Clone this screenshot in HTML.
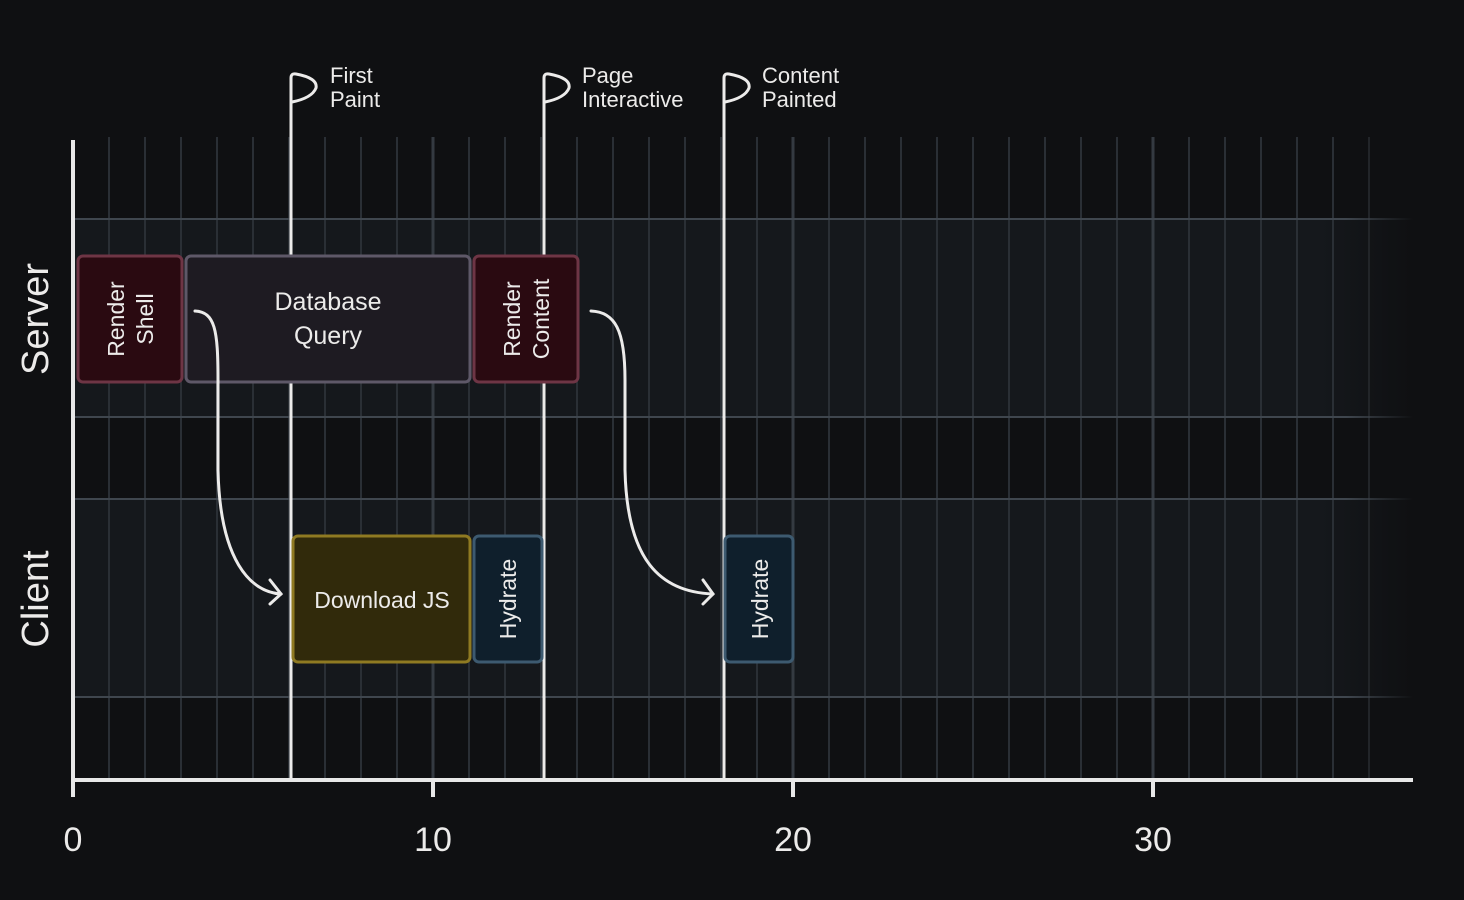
<!DOCTYPE html>
<html><head><meta charset="utf-8"><style>
html,body{margin:0;padding:0;background:#0f1012;}
svg{display:block;}
text{font-family:"Liberation Sans","DejaVu Sans",sans-serif;fill:#ecebea;}
</style></head><body>
<svg width="1464" height="900" viewBox="0 0 1464 900" xmlns="http://www.w3.org/2000/svg">
<defs>
<linearGradient id="fade" x1="0" x2="1" y1="0" y2="0">
<stop offset="0" stop-color="#15181c" stop-opacity="1"/>
<stop offset="0.93" stop-color="#15181c" stop-opacity="1"/>
<stop offset="1" stop-color="#15181c" stop-opacity="0"/>
</linearGradient>
<linearGradient id="fadeL" x1="0" x2="1" y1="0" y2="0">
<stop offset="0" stop-color="#3f464e"/>
<stop offset="0.95" stop-color="#3f464e"/>
<stop offset="1" stop-color="#3f464e" stop-opacity="0"/>
</linearGradient>
</defs>
<rect width="1464" height="900" fill="#0f1012"/>
<rect x="73" y="219" width="1340" height="198" fill="url(#fade)"/>
<rect x="73" y="499" width="1340" height="198" fill="url(#fade)"/>
<g stroke="#2a2f35" stroke-width="2">
<line x1="109" y1="137" x2="109" y2="780"/><line x1="145" y1="137" x2="145" y2="780"/><line x1="181" y1="137" x2="181" y2="780"/><line x1="217" y1="137" x2="217" y2="780"/><line x1="253" y1="137" x2="253" y2="780"/><line x1="289" y1="137" x2="289" y2="780"/><line x1="325" y1="137" x2="325" y2="780"/><line x1="361" y1="137" x2="361" y2="780"/><line x1="397" y1="137" x2="397" y2="780"/>
<line x1="469" y1="137" x2="469" y2="780"/><line x1="505" y1="137" x2="505" y2="780"/><line x1="541" y1="137" x2="541" y2="780"/><line x1="577" y1="137" x2="577" y2="780"/><line x1="613" y1="137" x2="613" y2="780"/><line x1="649" y1="137" x2="649" y2="780"/><line x1="685" y1="137" x2="685" y2="780"/><line x1="721" y1="137" x2="721" y2="780"/><line x1="757" y1="137" x2="757" y2="780"/>
<line x1="829" y1="137" x2="829" y2="780"/><line x1="865" y1="137" x2="865" y2="780"/><line x1="901" y1="137" x2="901" y2="780"/><line x1="937" y1="137" x2="937" y2="780"/><line x1="973" y1="137" x2="973" y2="780"/><line x1="1009" y1="137" x2="1009" y2="780"/><line x1="1045" y1="137" x2="1045" y2="780"/><line x1="1081" y1="137" x2="1081" y2="780"/><line x1="1117" y1="137" x2="1117" y2="780"/>
<line x1="1189" y1="137" x2="1189" y2="780"/><line x1="1225" y1="137" x2="1225" y2="780"/><line x1="1261" y1="137" x2="1261" y2="780"/><line x1="1297" y1="137" x2="1297" y2="780"/><line x1="1333" y1="137" x2="1333" y2="780"/><line x1="1369" y1="137" x2="1369" y2="780" stroke="#222529"/>
</g>
<g stroke="#343a41" stroke-width="3">
<line x1="433" y1="137" x2="433" y2="780"/><line x1="793" y1="137" x2="793" y2="780"/><line x1="1153" y1="137" x2="1153" y2="780"/>
</g>
<rect x="73" y="218" width="1340" height="2" fill="url(#fadeL)"/>
<rect x="73" y="416" width="1340" height="2" fill="url(#fadeL)"/>
<rect x="73" y="498" width="1340" height="2" fill="url(#fadeL)"/>
<rect x="73" y="696" width="1340" height="2" fill="url(#fadeL)"/>
<!-- markers (behind boxes) -->
<g stroke="#ecebea" stroke-width="3" fill="none" stroke-linecap="round">
<path d="M291 780 V78 Q291 73 296 74 Q318 78 316 88 Q312 98 292 102"/>
<path d="M544 780 V78 Q544 73 549 74 Q571 78 569 88 Q565 98 545 102"/>
<path d="M724 780 V78 Q724 73 729 74 Q751 78 749 88 Q745 98 725 102"/>
</g>
<rect x="78" y="256" width="104" height="126" rx="5" fill="#2a0a11" stroke="#6e3545" stroke-width="3"/>
<rect x="186" y="256" width="284" height="126" rx="5" fill="#1e1b22" stroke="#5e5868" stroke-width="3"/>
<rect x="474" y="256" width="104" height="126" rx="5" fill="#2a0a11" stroke="#6e3545" stroke-width="3"/>
<rect x="293" y="536" width="177" height="126" rx="5" fill="#312a0b" stroke="#8f7a22" stroke-width="3"/>
<rect x="474" y="536" width="68" height="126" rx="5" fill="#0f1f2c" stroke="#3d5a70" stroke-width="3"/>
<rect x="725" y="536" width="68" height="126" rx="5" fill="#0f1f2c" stroke="#3d5a70" stroke-width="3"/>
<g font-size="23" text-anchor="middle">
<text transform="translate(124,319) rotate(-90)">Render</text>
<text transform="translate(153,319) rotate(-90)">Shell</text>
<text transform="translate(520,319) rotate(-90)">Render</text>
<text transform="translate(549,319) rotate(-90)">Content</text>
<text x="328" y="310" font-size="25">Database</text>
<text x="328" y="344" font-size="25">Query</text>
<text x="382" y="608">Download JS</text>
<text transform="translate(516,599) rotate(-90)">Hydrate</text>
<text transform="translate(768,599) rotate(-90)">Hydrate</text>
</g>
<g stroke="#ecebea" stroke-width="3" fill="none" stroke-linecap="round">
<path d="M195 311 C215 312 218 330 218 380 V470 C220 560 250 592 281 594"/>
<path d="M270 580 L281 594 L270 604"/>
<path d="M591 311 C615 312 625 330 625 380 V470 C627 560 660 592 713 594"/>
<path d="M703 580 L713 594 L703 604"/>
</g>
<g font-size="22">
<text x="330" y="83">First</text><text x="330" y="107">Paint</text>
<text x="582" y="83">Page</text><text x="582" y="107">Interactive</text>
<text x="762" y="83">Content</text><text x="762" y="107">Painted</text>
</g>
<g stroke="#e8e8e8" stroke-width="4">
<line x1="73" y1="140" x2="73" y2="782"/>
<line x1="71" y1="780" x2="1413" y2="780"/>
<line x1="73" y1="780" x2="73" y2="797"/><line x1="433" y1="780" x2="433" y2="797"/><line x1="793" y1="780" x2="793" y2="797"/><line x1="1153" y1="780" x2="1153" y2="797"/>
</g>
<g font-size="34" text-anchor="middle">
<text x="73" y="851">0</text><text x="433" y="851">10</text><text x="793" y="851">20</text><text x="1153" y="851">30</text>
<text transform="translate(48,319) rotate(-90)" font-size="38">Server</text>
<text transform="translate(48,599) rotate(-90)" font-size="38">Client</text>
</g>
</svg>
</body></html>
